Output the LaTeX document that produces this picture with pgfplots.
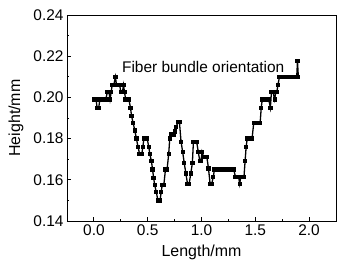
\documentclass[border=0pt]{standalone}
\usepackage{fontspec}
\setmainfont{Liberation Sans}
\usepackage{pgfplots}
\pgfplotsset{compat=1.18}
\begin{document}
\begin{tikzpicture}
\begin{axis}[
  name=ax,
  scale only axis,
  width=269bp, height=206bp,
  xmin=-0.25, xmax=2.25,
  ymin=0.14, ymax=0.24,
  xtick={0,0.5,1,1.5,2},
  ytick={0.14,0.16,0.18,0.2,0.22,0.24},
  minor x tick num=1,
  minor y tick num=1,
  tick align=inside,
  xtick pos=left, ytick pos=left,
  major tick length=4bp,
  minor tick length=2.5bp,
  axis line style={line width=0.8bp},
  every tick/.style={black, line width=0.8bp},
  /pgf/number format/assume math mode=true,
  xticklabel style={/pgf/number format/.cd, fixed, fixed zerofill, precision=1},
  yticklabel style={/pgf/number format/.cd, fixed, fixed zerofill, precision=2},
  scaled y ticks=false,
  tick label style={font=\fontsize{15.5}{17}\selectfont},
  label style={font=\fontsize{16}{18}\selectfont},
  xlabel={Length/mm},
  ylabel={Height/mm},
  xlabel style={at={(axis description cs:0.5,-0.15)}, anchor=center},
  ylabel style={at={(axis description cs:-0.19,0.5)}, anchor=center, rotate=0},
  clip=false,
]
\addplot[black, line width=1.3bp, mark=square*, mark size=1.5bp, mark options={solid}] coordinates {
(0.000,0.199) (0.020,0.199) (0.030,0.195) (0.045,0.195) (0.055,0.199) (0.075,0.199)
(0.095,0.199) (0.110,0.199) (0.125,0.2025) (0.140,0.2025) (0.150,0.199) (0.160,0.2025)
(0.170,0.206) (0.185,0.206) (0.200,0.210) (0.210,0.206) (0.225,0.206) (0.240,0.206)
(0.250,0.2025) (0.265,0.2025) (0.275,0.206) (0.285,0.2025) (0.295,0.199) (0.310,0.199)
(0.325,0.199) (0.340,0.195) (0.350,0.191) (0.365,0.1875) (0.380,0.184) (0.395,0.180)
(0.410,0.176) (0.425,0.1725) (0.445,0.1725) (0.455,0.176) (0.465,0.180) (0.480,0.180)
(0.495,0.180) (0.510,0.176) (0.520,0.1725) (0.535,0.169) (0.545,0.165) (0.555,0.161)
(0.565,0.1575) (0.580,0.154) (0.595,0.150) (0.615,0.150) (0.625,0.154) (0.635,0.1575)
(0.650,0.1575) (0.665,0.165) (0.680,0.165) (0.695,0.1725) (0.705,0.180) (0.715,0.182)
(0.730,0.182) (0.745,0.182) (0.755,0.1835) (0.765,0.1855) (0.780,0.188) (0.795,0.188)
(0.810,0.1785) (0.825,0.1735) (0.840,0.168) (0.855,0.163) (0.870,0.158) (0.885,0.158)
(0.900,0.163) (0.915,0.168) (0.925,0.1785) (0.940,0.1785) (0.955,0.1785) (0.970,0.1735)
(0.985,0.169) (0.995,0.169) (1.005,0.1735) (1.020,0.171) (1.035,0.171) (1.050,0.171)
(1.065,0.1655) (1.080,0.158) (1.095,0.158) (1.110,0.1615) (1.120,0.165) (1.135,0.165)
(1.150,0.165) (1.165,0.165) (1.180,0.165) (1.195,0.165) (1.210,0.165) (1.225,0.165)
(1.240,0.165) (1.255,0.165) (1.270,0.165) (1.285,0.165) (1.300,0.165) (1.315,0.1615)
(1.330,0.1615) (1.345,0.1615) (1.355,0.158) (1.365,0.1615) (1.380,0.1615) (1.395,0.1615)
(1.405,0.169) (1.415,0.176) (1.425,0.180) (1.440,0.180) (1.455,0.180) (1.470,0.180)
(1.485,0.1875) (1.500,0.1875) (1.515,0.1875) (1.530,0.1875) (1.545,0.1875) (1.555,0.195)
(1.565,0.199) (1.580,0.199) (1.595,0.199) (1.610,0.199) (1.625,0.199) (1.640,0.195)
(1.650,0.2025) (1.665,0.2025) (1.680,0.199) (1.690,0.2025) (1.700,0.2025) (1.710,0.206)
(1.725,0.210) (1.740,0.210) (1.755,0.210) (1.770,0.210) (1.785,0.210) (1.800,0.210)
(1.815,0.210) (1.830,0.210) (1.845,0.210) (1.860,0.210) (1.875,0.210) (1.885,0.210)
(1.892,0.2175) (1.900,0.210)
};
\node[font=\fontsize{15.5}{17}\selectfont] at (axis cs:1.016,0.2148) {Fiber bundle orientation};
\end{axis}
\pgfresetboundingbox
\path ([shift={(-67bp,-43bp)}]ax.south west) rectangle ([shift={(10bp,15bp)}]ax.north east);
\end{tikzpicture}
\end{document}
